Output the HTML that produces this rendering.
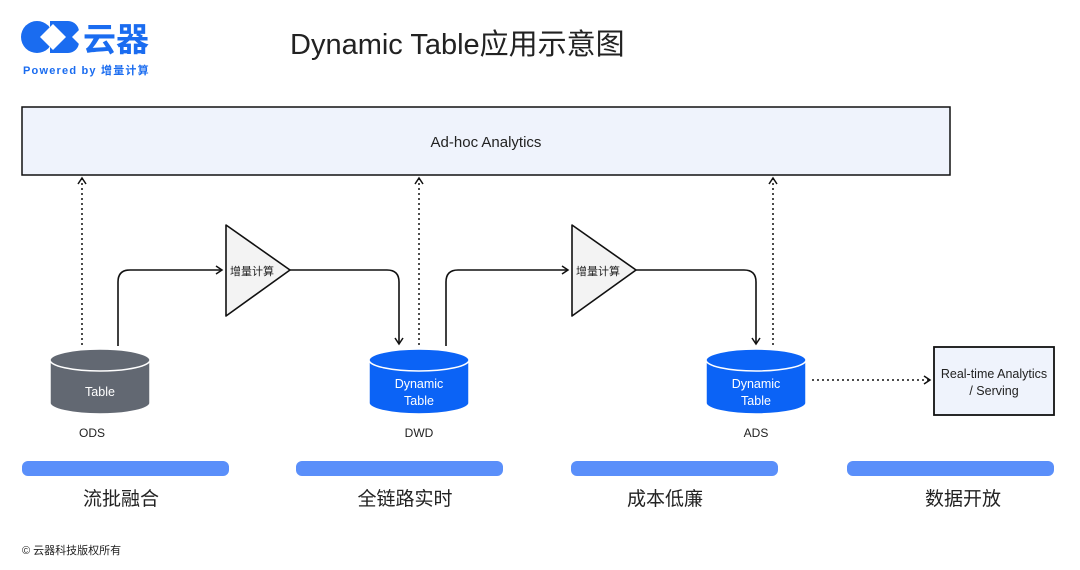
<!DOCTYPE html>
<html><head><meta charset="utf-8"><style>
body{margin:0;background:#fff;}
svg{display:block;font-family:"Liberation Sans","Noto Sans CJK SC",sans-serif;}
</style></head><body>
<svg width="1080" height="570" viewBox="0 0 1080 570" xmlns="http://www.w3.org/2000/svg">
<defs>
<marker id="a" markerWidth="10" markerHeight="10" refX="8" refY="5" orient="auto" markerUnits="userSpaceOnUse"><path d="M2,1 L8,5 L2,9" fill="none" stroke="#111" stroke-width="1.5"/></marker>
<mask id="m"><rect x="0" y="0" width="100" height="80" fill="#fff"/><polygon points="53,24 66,37 53,50 40,37" fill="#000"/></mask>
</defs>
<!-- logo -->
<g mask="url(#m)" fill="#1a6cf0">
<circle cx="37" cy="37" r="16"/>
<path d="M50,21 H68 A11,11 0 0 1 79,32 V42 A11,11 0 0 1 68,53 H50 Z"/>
</g>
<polygon points="79,30 72,37 79,44" fill="#fff"/>
<text x="83" y="51" font-size="33" font-weight="bold" fill="#1a6cf0">云器</text>
<text x="23" y="74" font-size="11" fill="#1a6cf0" font-weight="bold" letter-spacing="1.2">Powered by 增量计算</text>
<text x="290" y="54" font-size="29" fill="#222">Dynamic Table应用示意图</text>
<!-- ad-hoc -->
<rect x="22" y="107" width="928" height="68" fill="#eff3fc" stroke="#111" stroke-width="1.5"/>
<text x="486" y="147" font-size="15" fill="#222" text-anchor="middle">Ad-hoc Analytics</text>
<!-- dotted up -->
<g stroke="#111" stroke-width="1.5" stroke-dasharray="2,3" fill="none" marker-end="url(#a)">
<line x1="82" y1="345" x2="82" y2="178"/>
<line x1="419" y1="345" x2="419" y2="178"/>
<line x1="773" y1="345" x2="773" y2="178"/>
<line x1="812" y1="380" x2="930" y2="380"/>
</g>
<!-- flow arrows -->
<g stroke="#111" stroke-width="1.6" fill="none" marker-end="url(#a)">
<path d="M118,346 V282 Q118,270 130,270 H222"/>
<path d="M290,270 H387 Q399,270 399,282 V344"/>
<path d="M446,346 V282 Q446,270 458,270 H568"/>
<path d="M636,270 H744 Q756,270 756,282 V344"/>
</g>
<!-- triangles -->
<polygon points="226,225 290,270 226,316" fill="#f3f3f3" stroke="#111" stroke-width="1.6" stroke-linejoin="round"/>
<polygon points="572,225 636,270 572,316" fill="#f3f3f3" stroke="#111" stroke-width="1.6" stroke-linejoin="round"/>
<text x="230" y="275" font-size="11" fill="#222">增量计算</text>
<text x="576" y="275" font-size="11" fill="#222">增量计算</text>
<!-- cylinders -->
<g stroke="#fff" stroke-width="1.5">
<path d="M50,360 V403 A50,11 0 0 0 150,403 V360" fill="#626872"/>
<ellipse cx="100" cy="360" rx="50" ry="11" fill="#626872"/>
<path d="M369,360 V403 A50,11 0 0 0 469,403 V360" fill="#0b63f6"/>
<ellipse cx="419" cy="360" rx="50" ry="11" fill="#0b63f6"/>
<path d="M706,360 V403 A50,11 0 0 0 806,403 V360" fill="#0b63f6"/>
<ellipse cx="756" cy="360" rx="50" ry="11" fill="#0b63f6"/>
</g>
<g font-size="12.5" fill="#fff" text-anchor="middle">
<text x="100" y="396">Table</text>
<text x="419" y="388">Dynamic</text><text x="419" y="405">Table</text>
<text x="756" y="388">Dynamic</text><text x="756" y="405">Table</text>
</g>
<g font-size="12" fill="#222" text-anchor="middle">
<text x="92" y="437">ODS</text><text x="419" y="437">DWD</text><text x="756" y="437">ADS</text>
</g>
<rect x="934" y="347" width="120" height="68" fill="#eff3fc" stroke="#111" stroke-width="1.8"/>
<text x="994" y="378" font-size="12.5" fill="#222" text-anchor="middle">Real-time Analytics</text>
<text x="994" y="395" font-size="12.5" fill="#222" text-anchor="middle">/ Serving</text>
<!-- bars -->
<g fill="#5a8ffa">
<rect x="22" y="461" width="207" height="15" rx="6"/>
<rect x="296" y="461" width="207" height="15" rx="6"/>
<rect x="571" y="461" width="207" height="15" rx="6"/>
<rect x="847" y="461" width="207" height="15" rx="6"/>
</g>
<g font-size="19" fill="#222" text-anchor="middle">
<text x="121" y="505">流批融合</text>
<text x="405" y="505">全链路实时</text>
<text x="665" y="505">成本低廉</text>
<text x="963" y="505">数据开放</text>
</g>
<text x="22" y="554" font-size="11" fill="#222">© 云器科技版权所有</text>
</svg>
</body></html>
